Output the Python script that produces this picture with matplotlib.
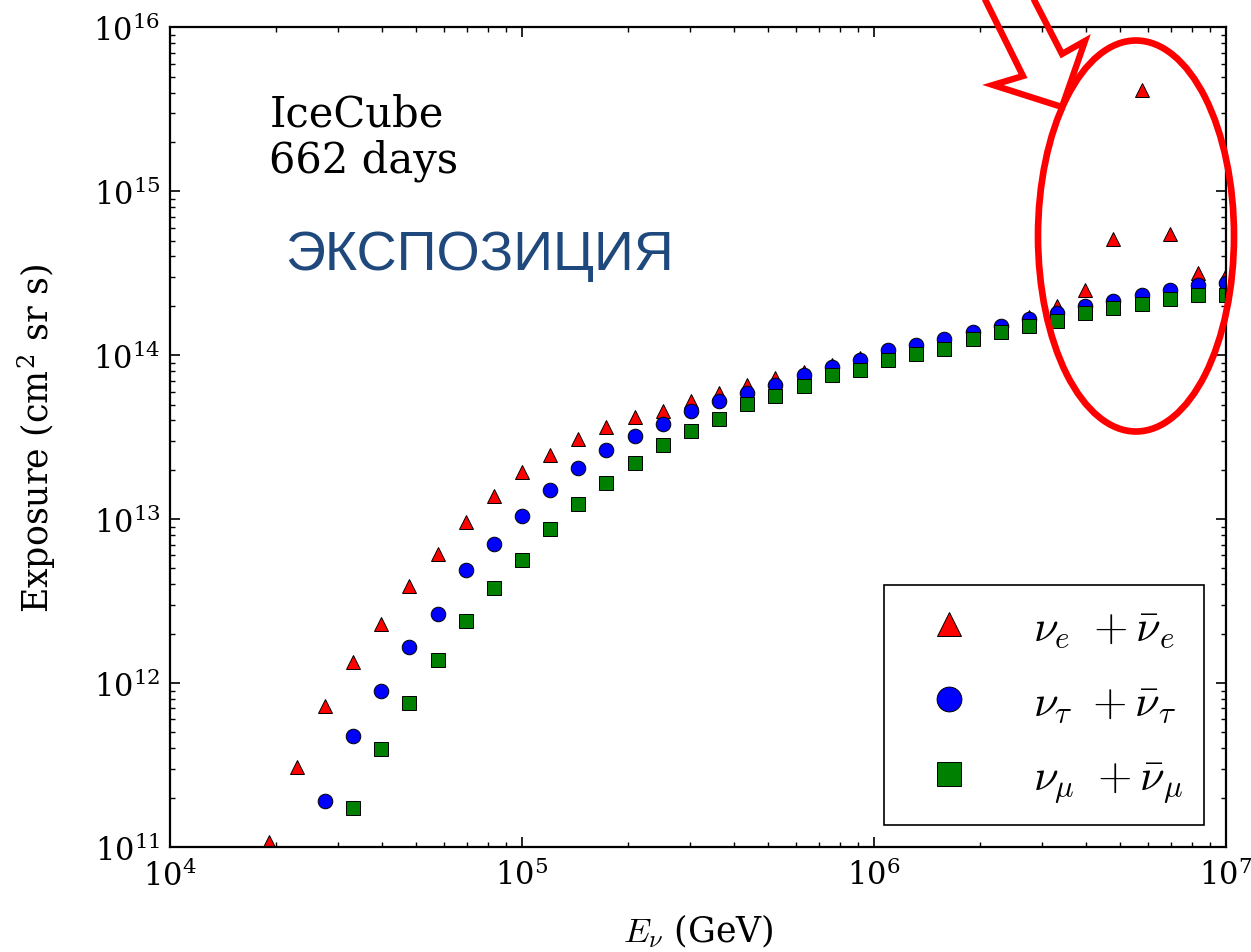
import numpy as np
import matplotlib
matplotlib.use('Agg')
import matplotlib.pyplot as plt
from matplotlib.patches import Ellipse, Polygon

plt.rcParams['font.family'] = 'serif'
plt.rcParams['font.serif'] = ['DejaVu Serif']
plt.rcParams['mathtext.fontset'] = 'cm'

# log10(E / GeV) of the bins
log_e = [4.28, 4.36, 4.44, 4.52, 4.60, 4.68, 4.76, 4.84, 4.92, 5.00,
         5.08, 5.16, 5.24, 5.32, 5.40, 5.48, 5.56, 5.64, 5.72, 5.80,
         5.88, 5.96, 6.04, 6.12, 6.20, 6.28, 6.36, 6.44, 6.52, 6.60,
         6.68, 6.76, 6.84, 6.92, 7.00]

# log10(exposure / cm^2 sr s)
log_nue = [11.03, 11.49, 11.86, 12.13, 12.36, 12.59, 12.79, 12.98, 13.14, 13.29,
           13.39, 13.49, 13.56, 13.62, 13.66, 13.72, 13.77, 13.82, 13.86, 13.90,
           13.94, 13.98, 14.02, 14.05, 14.09, 14.13, 14.17, 14.23, 14.30, 14.40,
           14.71, 15.62, 14.74, 14.50, 14.49]
log_nutau = [11.28, 11.68, 11.95, 12.22, 12.42, 12.69, 12.85, 13.02,
             13.18, 13.31, 13.42, 13.51, 13.58, 13.66, 13.72, 13.77, 13.82, 13.88,
             13.93, 13.97, 14.03, 14.06, 14.10, 14.14, 14.18, 14.22, 14.26, 14.30,
             14.33, 14.37, 14.40, 14.43, 14.44]
log_numu = [11.24, 11.60, 11.88, 12.14, 12.38, 12.58, 12.75,
            12.94, 13.09, 13.22, 13.34, 13.45, 13.54, 13.61, 13.70, 13.75, 13.81,
            13.88, 13.91, 13.97, 14.01, 14.04, 14.10, 14.14, 14.18, 14.21, 14.26,
            14.29, 14.31, 14.34, 14.37, 14.37]

E = 10 ** np.array(log_e)

fig = plt.figure(figsize=(12.51, 9.53), dpi=100)
ax = fig.add_axes([0.1359, 0.1102, 0.8441, 0.8601])

ms = 10.5
ax.plot(E, 10 ** np.array(log_nue), '^', color='r', mec='k', mew=0.7, ms=ms,
        label=r'$\nu_e\ +\bar{\nu}_e$')
ax.plot(E[2:], 10 ** np.array(log_nutau), 'o', color='b', mec='k', mew=0.7, ms=ms,
        label=r'$\nu_\tau\ +\bar{\nu}_\tau$')
ax.plot(E[3:], 10 ** np.array(log_numu), 's', color='g', mec='k', mew=0.7, ms=ms,
        label=r'$\nu_\mu\ +\bar{\nu}_\mu$')

ax.set_xscale('log')
ax.set_yscale('log')
ax.set_xlim(1e4, 1e7)
ax.set_ylim(1e11, 1e16)

ax.tick_params(which='both', direction='in', top=True, right=True, labelsize=22)
ax.tick_params(which='major', length=7, width=1.2)
ax.tick_params(axis='y', which='major', pad=7)
ax.tick_params(axis='x', which='major', pad=9)
ax.tick_params(which='minor', length=3.5, width=1.0)
for s in ax.spines.values():
    s.set_linewidth(1.6)

ax.set_xlabel(r'$E_\nu$ (GeV)', fontsize=25)
ax.set_ylabel(r'Exposure (cm$^{\mathdefault{2}}$ sr s)', fontsize=25)
ax.xaxis.set_label_coords(0.5, -0.078)
ax.yaxis.set_label_coords(-0.106, 0.5)

ax.text(0.094, 0.92, 'IceCube\n662 days', transform=ax.transAxes,
        fontsize=30, va='top', ha='left', linespacing=1.12)

leg = ax.legend(loc='lower right', fontsize=32, markerscale=1.7, numpoints=1,
                fancybox=False, framealpha=1, edgecolor='k',
                borderpad=0.45, labelspacing=0.7, handletextpad=0.9,
                borderaxespad=0.5)
leg.get_frame().set_linewidth(1.2)

# overlay in pixel coordinates for the slide annotations
ov = fig.add_axes([0, 0, 1, 1], facecolor='none')
ov.set_xlim(0, 1251)
ov.set_ylim(953, 0)
ov.axis('off')

ov.text(285, 256, 'ЭКСПОЗИЦИЯ', family='Liberation Sans', fontsize=40,
        color='#1f497d', va='center', ha='left')

arrow = Polygon([(965, -40), (1023, 77), (993, 86), (1062, 108),
                 (1085, 42), (1062, 55), (1013, -40)],
                closed=True, fill=False, edgecolor='#ff0000', lw=4.6,
                joinstyle='miter')
ov.add_patch(arrow)
ov.add_patch(Ellipse((1136, 237), 196, 391, fill=False, edgecolor='#ff0000', lw=4.8))

fig.savefig('out.png', dpi=100)
